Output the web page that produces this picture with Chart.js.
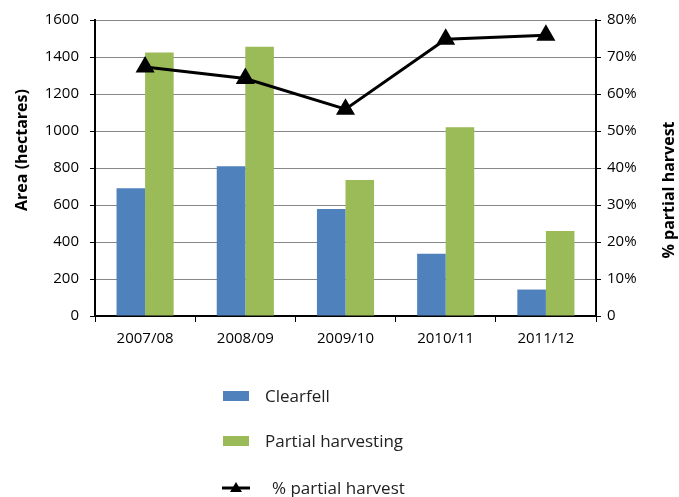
<!DOCTYPE html>
<html>
<head>
<meta charset="utf-8">
<script src="https://cdn.jsdelivr.net/npm/chart.js@4"></script>
<style>
  html, body { margin: 0; padding: 0; background: #fff; }
  #wrap { width: 679px; height: 497px; position: relative; }
</style>
</head>
<body>
<div id="wrap"><canvas id="chart"></canvas></div>
<script>
// data
const seasons = ['2007/08', '2008/09', '2009/10', '2010/11', '2011/12'];
const clearfell = [690, 810, 578, 336, 143];
const partialHarvesting = [1425, 1455, 735, 1020, 460];
const pctPartial = [67.3, 64.2, 55.9, 74.8, 75.9];
const areaTicks = [0, 200, 400, 600, 800, 1000, 1200, 1400, 1600];
const pctTicks = [0, 10, 20, 30, 40, 50, 60, 70, 80];

const FONT = '"Open Sans", "Liberation Sans", sans-serif';
const BLUE = '#4f81bd';
const GREEN = '#9bbb59';
const GRID = '#878787';

// titles drawn by hand: right one reads bottom-to-top, like the left one
const axisTitles = {
  id: 'axisTitles',
  afterDraw(chart) {
    const ctx = chart.ctx;
    ctx.save();
    ctx.fillStyle = '#000';
    ctx.font = 'bold 16px ' + FONT;
    ctx.textAlign = 'center';
    ctx.textBaseline = 'middle';
    [[22, 150, 'Area (hectares)'], [669, 190, '% partial harvest']].forEach(([x, y, t]) => {
      ctx.save();
      ctx.translate(x, y);
      ctx.rotate(-Math.PI / 2);
      ctx.fillText(t, 0, 0);
      ctx.restore();
    });
    ctx.restore();
  }
};

// stacked legend under the plot
const stackedLegend = {
  id: 'stackedLegend',
  afterDraw(chart) {
    const ctx = chart.ctx;
    const ds = chart.data.datasets;
    ctx.save();
    ctx.font = '17px ' + FONT;
    ctx.textBaseline = 'middle';
    ctx.fillStyle = '#222';

    const rows = [396, 441, 488];
    // bars
    [0, 1].forEach(i => {
      ctx.fillStyle = ds[i].backgroundColor;
      ctx.fillRect(223, rows[i] - 5, 26, 10);
      ctx.fillStyle = '#222';
      ctx.fillText(ds[i].label, 265, rows[i] + 1);
    });
    // line
    const y = rows[2];
    ctx.strokeStyle = '#000';
    ctx.lineWidth = 3;
    ctx.beginPath();
    ctx.moveTo(222, y);
    ctx.lineTo(250, y);
    ctx.stroke();
    ctx.fillStyle = '#000';
    ctx.beginPath();
    ctx.moveTo(236, y - 6);
    ctx.lineTo(242, y + 4);
    ctx.lineTo(230, y + 4);
    ctx.closePath();
    ctx.fill();
    ctx.fillStyle = '#222';
    ctx.fillText(ds[2].label, 272, y + 1);
    ctx.restore();
  }
};

new Chart(document.getElementById('chart'), {
  type: 'bar',
  data: {
    labels: seasons,
    datasets: [
      {
        label: 'Clearfell',
        data: clearfell,
        backgroundColor: BLUE,
        yAxisID: 'y',
        order: 1
      },
      {
        label: 'Partial harvesting',
        data: partialHarvesting,
        backgroundColor: GREEN,
        yAxisID: 'y',
        order: 1
      },
      {
        type: 'line',
        label: '% partial harvest',
        data: pctPartial,
        yAxisID: 'y2',
        borderColor: '#000',
        borderWidth: 3,
        backgroundColor: '#000',
        pointStyle: 'triangle',
        pointRadius: 8,
        pointBackgroundColor: '#000',
        pointBorderColor: '#000',
        tension: 0,
        order: 0
      }
    ]
  },
  options: {
    responsive: true,
    maintainAspectRatio: false,
    animation: false,
    layout: { padding: { top: 18, bottom: 137, left: 0, right: 0 } },
    datasets: { bar: { barPercentage: 1, categoryPercentage: 0.57 } },
    plugins: {
      legend: { display: false },
      tooltip: { enabled: false }
    },
    scales: {
      x: {
        grid: { drawOnChartArea: false, drawTicks: true, tickLength: 6, tickColor: '#000', offset: true },
        border: { color: '#000', width: 2 },
        ticks: { color: '#000', font: { family: FONT, size: 15 }, padding: 8 },
        afterFit(s) { s.height = 44; }
      },
      y: {
        position: 'left',
        min: 0,
        max: 1600,
        afterBuildTicks(s) { s.ticks = areaTicks.map(v => ({ value: v })); },
        grid: { color: GRID, lineWidth: 1, tickLength: 5, tickColor: '#000' },
        border: { color: '#000', width: 2 },
        ticks: {
          color: '#000',
          font: { family: FONT, size: 15 },
          padding: 11,
          callback: v => String(v)
        },
        afterFit(s) { s.width = 95; }
      },
      y2: {
        position: 'right',
        min: 0,
        max: 80,
        afterBuildTicks(s) { s.ticks = pctTicks.map(v => ({ value: v })); },
        grid: { drawOnChartArea: false, tickLength: 5, tickColor: '#000' },
        border: { color: '#000', width: 2 },
        ticks: {
          color: '#000',
          font: { family: FONT, size: 15 },
          padding: 6,
          callback: v => v === 0 ? '0' : v + '%'
        },
        afterFit(s) { s.width = 83; }
      }
    }
  },
  plugins: [axisTitles, stackedLegend]
});
</script>
</body>
</html>
